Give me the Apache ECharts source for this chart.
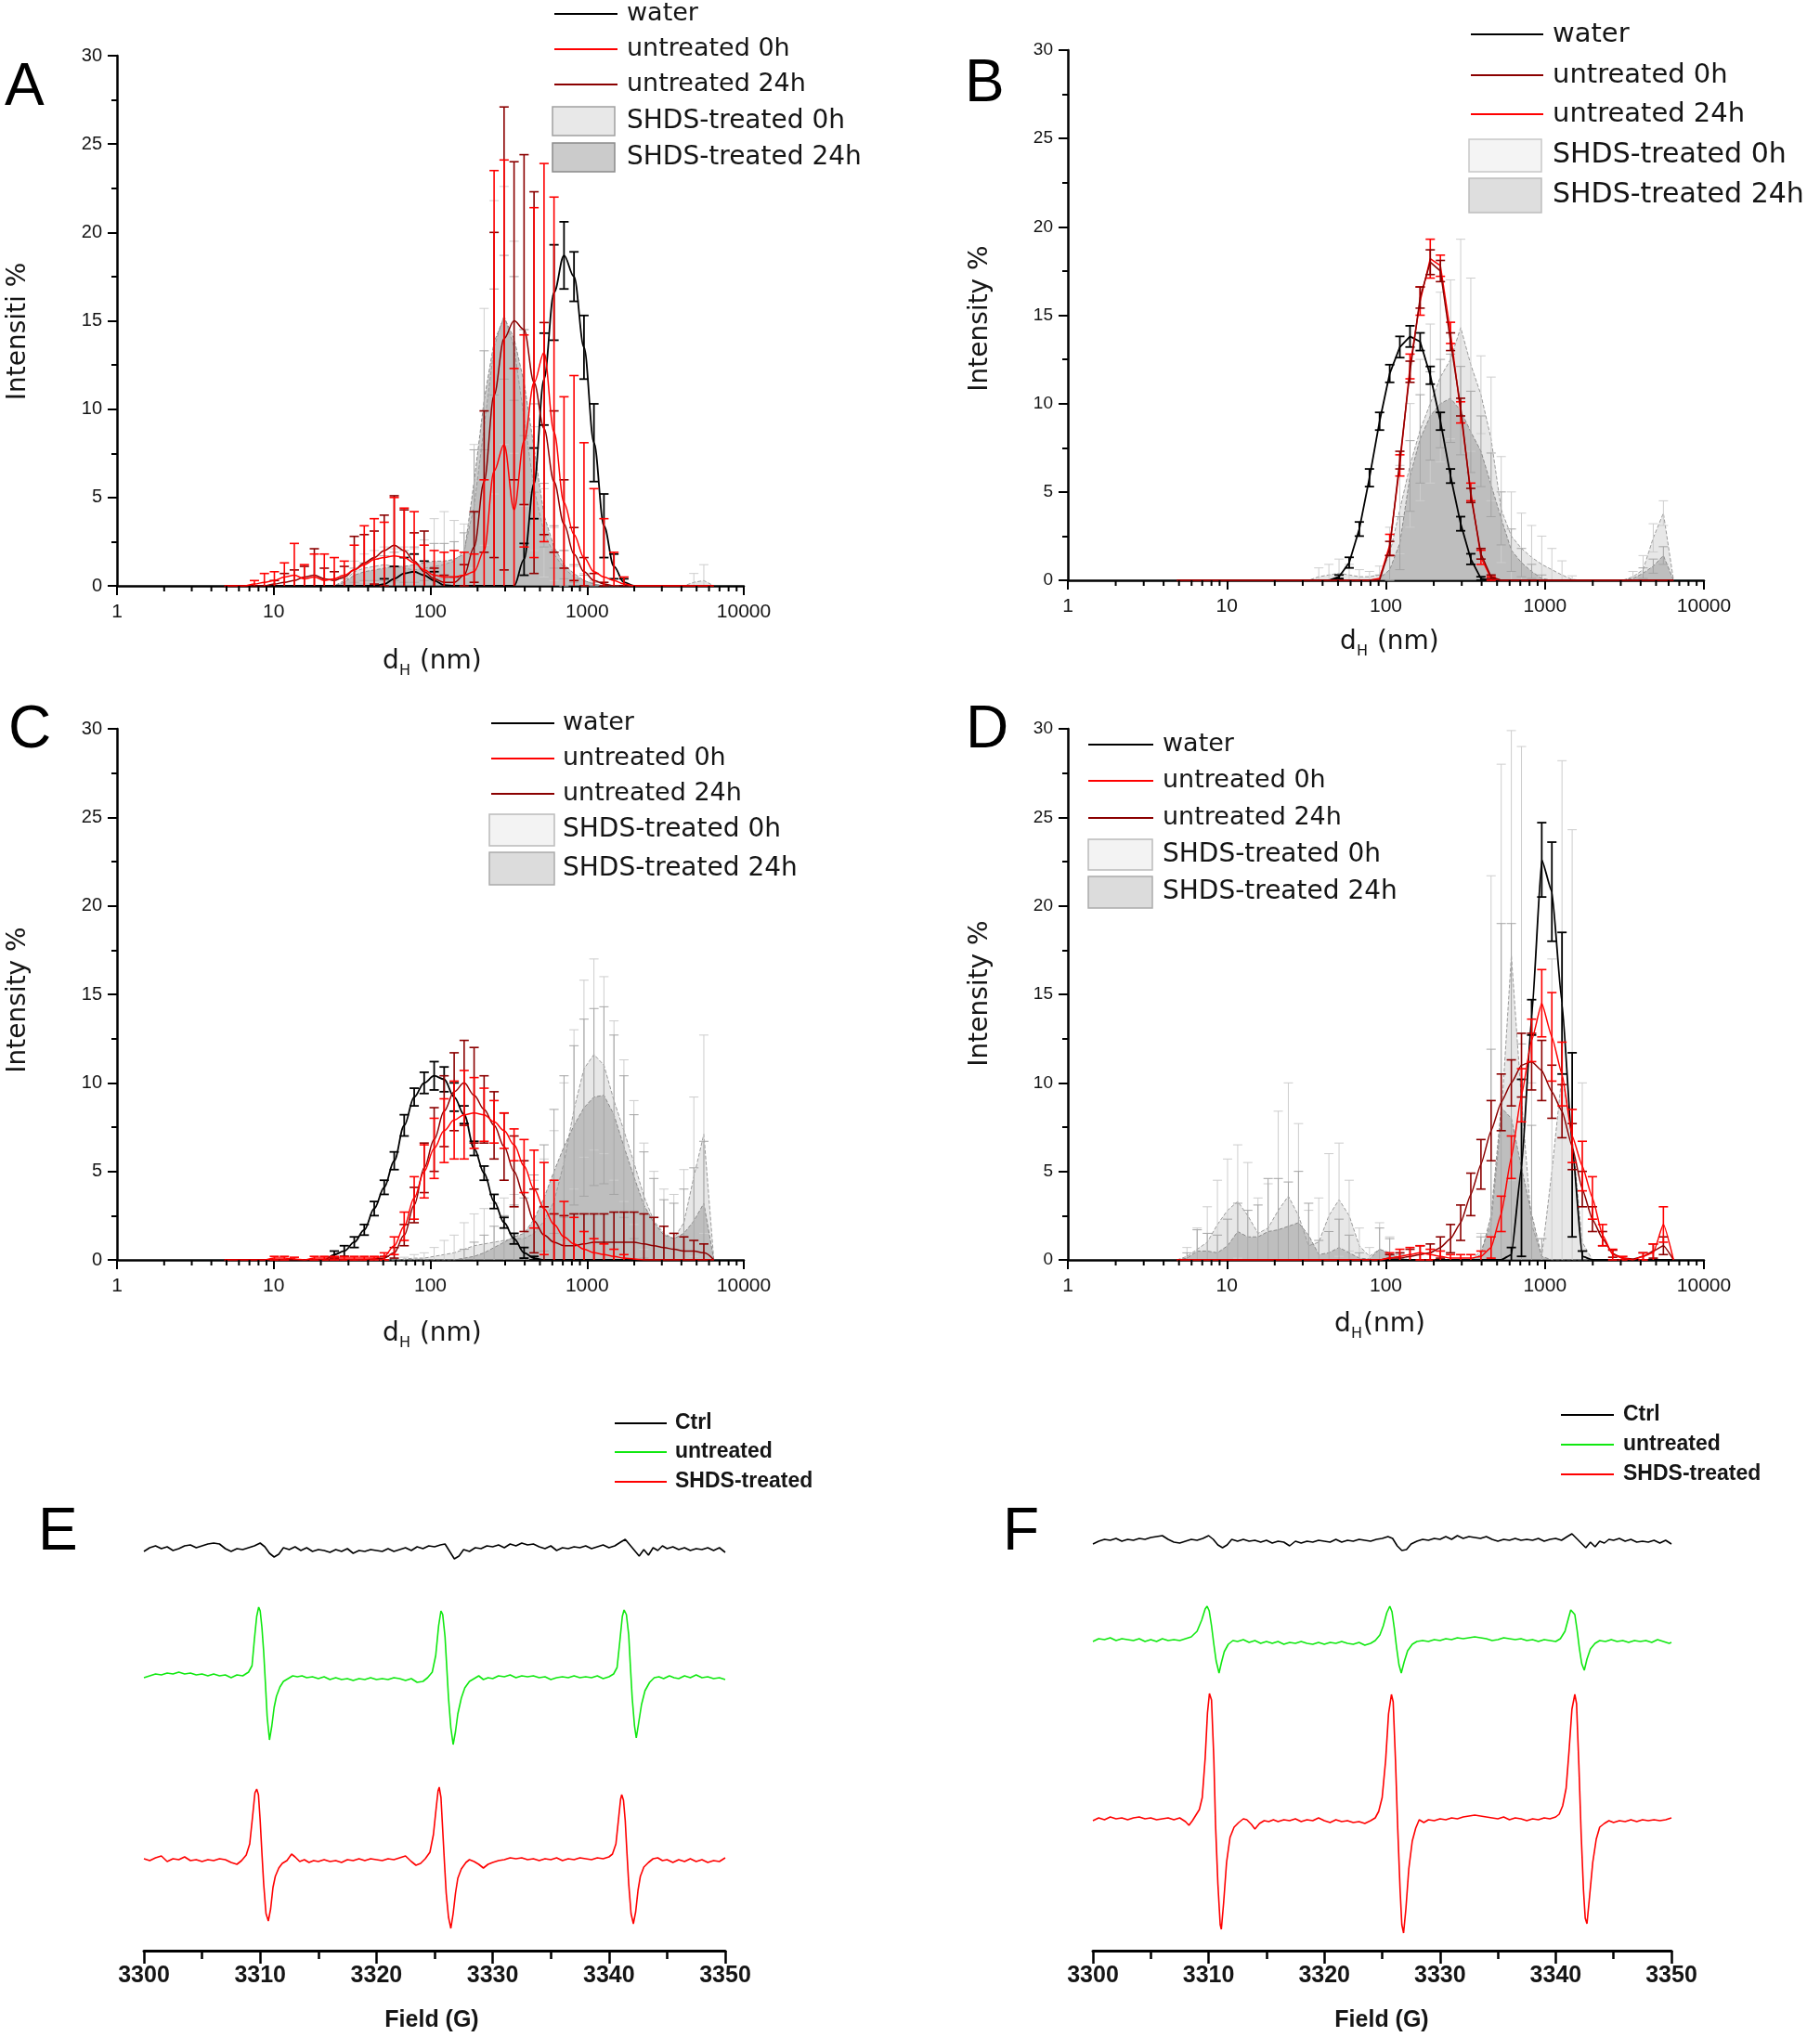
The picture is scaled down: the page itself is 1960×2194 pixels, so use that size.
<!DOCTYPE html>
<html><head><meta charset="utf-8">
<script src="https://cdn.jsdelivr.net/npm/echarts@6/dist/echarts.min.js"></script>
<style>html,body{margin:0;padding:0;background:#fff}#c{width:1960px;height:2194px}</style>
</head><body><div id="c"></div>
<script>
// Malvern size bins (nm) used by all DLS panels
const bins = [4.849,5.615,6.503,7.531,8.721,10.1,11.7,13.54,15.69,18.17,
21.04,24.36,28.21,32.67,37.84,43.82,50.75,58.77,68.06,78.82,
91.28,105.7,122.4,141.8,164.2,190.1,220.2,255.0,295.3,342.0,
396.1,458.7,531.2,615.1,712.4,825.0,955.4,1106,1281,1484,
1718,1990,2305,2669,3091,3580,4145,4801,5560,6439];
const dlsTicks = [1,10,100,1000,10000];
const yTicks = [0,5,10,15,20,25,30];
const eprTicks = [3300,3310,3320,3330,3340,3350];

// ---------- Panel A ----------
const A_water = [0,0,0,0,0,0,0,0,0,0, 0,0,0,0,0,0,0.1,0.4,0.7,0.8, 0.6,0.3,0.05,0,0,0,0,0,0,0, 1.5,5.8,11.7,16.6,18.7,17.5,13.5,8.1,3.4,1.1, 0.2,0,0,0,0,0,0,0,0,0];
const A_water_err = [0,0,0,0,0,0,0,0,0,0, 0,0,0,0,0,0,0.3,0.7,0.9,1.0, 0.8,0.5,0,0,0,0,0,0,0,0, 0.9,2.0,2.6,2.7,1.9,1.4,1.8,2.2,1.8,0.7, 0.2,0,0,0,0,0,0,0,0,0];
const A_red0 = [0,0,0,0.1,0.2,0.3,0.5,0.6,0.4,0.5, 0.3,0.4,0.6,0.9,1.2,1.5,1.6,1.7,1.6,1.3, 0.9,0.6,0.5,0.5,0.6,0.8,2.0,6.5,8.0,4.3, 8.2,11.5,13.2,8.7,4.7,2.9,1.6,0.8,0.5,0.3, 0.1,0,0,0,0,0,0,0,0,0];
const A_red0_err = [0,0,0,0.2,0.5,0.5,0.8,1.8,0.8,1.3, 1.5,1.2,0.8,1.4,2.2,2.3,2.0,3.3,2.8,2.9, 1.4,1.4,1.4,1.5,1.3,1.0,4.0,17.0,16.1,8.0, 6.0,9.9,10.7,13.3,6.0,9.0,6.5,4.7,3.3,1.6, 0.4,0,0,0,0,0,0,0,0,0];
const A_red24 = [0,0,0,0,0,0.1,0.2,0.3,0.5,0.6, 0.4,0.3,0.5,0.9,1.3,1.6,2.0,2.3,2.0,1.4, 0.8,0.4,0.2,0.2,0.6,2.2,5.9,10.8,14.0,15.0, 14.5,11.5,8.9,5.9,3.5,1.8,0.8,0.3,0.1,0, 0,0,0,0,0,0,0,0,0,0];
const A_red24_err = [0,0,0,0,0,0.2,0.5,0.6,0.6,1.5, 0.6,0.5,0.6,1.9,1.6,1.5,2.0,2.8,2.3,1.6, 2.3,0.6,0.4,0.3,0.6,2.0,4.0,9.2,13.1,9.0, 9.9,10.8,6.0,4.0,2.5,1.5,0.8,0.4,0.1,0, 0,0,0,0,0,0,0,0,0,0];
const A_shds0 = [0,0,0,0,0,0,0,0,0,0, 0,0,0.3,0.8,1.0,1.1,1.2,1.1,1.0,0.9, 1.0,1.1,1.2,1.4,2.0,4.5,9.0,13.5,15.3,13.5, 9.5,5.5,3.0,1.8,1.0,0.5,0.3,0.1,0,0, 0,0,0,0,0,0,0,0.2,0.3,0];
const A_shds0_err = [0,0,0,0,0,0,0,0,0,0, 0,0,0.3,0.6,0.8,0.9,1.0,1.0,1.2,1.2, 1.6,2.7,3.0,2.3,1.5,3.5,6.7,8.3,7.3,6.0, 5.0,3.5,2.5,1.5,1.0,0.6,0.4,0.2,0,0, 0,0,0,0,0,0,0,0.5,0.9,0];
const A_shds24 = [0,0,0,0,0,0,0,0,0,0, 0,0,0.2,0.6,0.8,0.9,1.0,1.1,1.1,1.2, 1.3,1.4,1.4,1.5,1.8,5.9,10.5,13.8,15.2,14.0, 11.5,7.8,4.0,2.2,1.2,0.7,0.3,0.1,0,0, 0,0,0,0,0,0,0,0,0,0];
const A_shds24_err = [0,0,0,0,0,0,0,0,0,0, 0,0,0.2,0.4,0.5,0.6,0.7,0.8,0.9,1.0, 1.0,1.0,1.0,1.0,1.2,1.8,2.8,3.0,3.5,3.5, 3.0,2.5,1.8,1.2,0.8,0.5,0.3,0.1,0,0, 0,0,0,0,0,0,0,0,0,0];

// ---------- Panel B ----------
const B_water = [0,0,0,0,0,0,0,0,0,0, 0,0,0,0,0,0,0.2,1.0,2.9,5.8, 9.0,11.7,13.2,13.8,13.5,11.6,9.0,5.9,3.2,1.2, 0.1,0,0,0,0,0,0,0,0,0, 0,0,0,0,0,0,0,0,0,0];
const B_water_err = [0,0,0,0,0,0,0,0,0,0, 0,0,0,0,0,0,0.1,0.3,0.4,0.5, 0.5,0.5,0.6,0.6,0.5,0.5,0.5,0.4,0.4,0.3, 0.1,0,0,0,0,0,0,0,0,0, 0,0,0,0,0,0,0,0,0,0];
const B_red0 = [0,0,0,0,0,0,0,0,0,0, 0,0,0,0,0,0,0,0,0,0, 0,1.8,6.8,11.8,16.0,18.0,17.5,13.5,9.8,4.8, 1.5,0.2,0,0,0,0,0,0,0,0, 0,0,0,0,0,0,0,0,0,0];
const B_red0_err = [0,0,0,0,0,0,0,0,0,0, 0,0,0,0,0,0,0,0,0,0, 0,0.4,0.5,0.6,0.6,0.7,0.6,0.5,0.5,0.4, 0.3,0.1,0,0,0,0,0,0,0,0, 0,0,0,0,0,0,0,0,0,0];
const B_red24 = [0,0,0,0,0,0,0,0,0,0, 0,0,0,0,0,0,0,0,0,0, 0.1,2.0,6.5,12.1,15.8,18.2,17.8,14.0,9.5,5.0, 1.3,0.1,0,0,0,0,0,0,0,0, 0,0,0,0,0,0,0,0,0,0];
const B_red24_err = [0,0,0,0,0,0,0,0,0,0, 0,0,0,0,0,0,0,0,0,0, 0,0.6,0.6,0.7,0.8,1.1,0.6,0.6,0.6,0.5, 0.4,0.1,0,0,0,0,0,0,0,0, 0,0,0,0,0,0,0,0,0,0];
const B_shds0 = [0,0,0,0,0,0,0,0,0,0, 0,0,0,0,0.2,0.3,0.4,0.3,0.2,0.2, 0.3,1.5,4.0,6.5,8.5,10.0,11.5,12.5,14.3,12.2, 10.5,8.0,4.0,2.5,1.8,1.3,0.9,0.6,0.3,0.05, 0,0,0,0,0,0.2,0.6,2.4,3.8,0];
const B_shds0_err = [0,0,0,0,0,0,0,0,0,0, 0,0,0,0,0.5,0.6,0.8,0.6,0.4,0.3, 0.5,1.5,2.5,3.5,4.0,4.5,4.8,4.5,5.0,4.9, 2.2,3.5,3.0,2.5,2.0,1.8,1.6,1.2,0.8,0.2, 0,0,0,0,0,0.3,0.8,0.8,0.7,0];
const B_shds24 = [0,0,0,0,0,0,0,0,0,0, 0,0,0,0,0,0,0,0,0,0, 0.1,0.6,2.1,5.9,8.0,9.3,10.0,10.3,9.6,8.4, 7.3,5.4,3.5,1.7,1.0,0.5,0.1,0,0,0, 0,0,0,0,0,0.1,0.4,0.8,1.4,0];
const B_shds24_err = [0,0,0,0,0,0,0,0,0,0, 0,0,0,0,0,0,0,0,0,0, 0.2,0.8,1.5,2.0,2.5,2.5,2.5,2.5,2.5,2.3, 2.0,1.8,1.5,1.2,0.8,0.4,0.2,0,0,0, 0,0,0,0,0,0,0.3,0.4,0.5,0];

// ---------- Panel C ----------
const C_water = [0,0,0,0,0,0,0,0,0,0, 0,0.3,0.5,1.0,1.7,2.9,4.1,5.6,7.6,9.2, 10.0,10.4,10.2,9.2,8.2,6.3,4.9,3.3,2.1,1.2, 0.4,0.1,0,0,0,0,0,0,0,0, 0,0,0,0,0,0,0,0,0,0];
const C_water_err = [0,0,0,0,0,0,0,0,0,0, 0,0.2,0.3,0.3,0.3,0.4,0.4,0.5,0.6,0.5, 0.6,0.8,0.7,0.8,0.5,0.4,0.4,0.4,0.3,0.3, 0.3,0.1,0,0,0,0,0,0,0,0, 0,0,0,0,0,0,0,0,0,0];
const C_red0 = [0,0,0,0,0,0.1,0.1,0.05,0,0.1, 0.1,0.1,0.1,0.1,0.1,0.1,0.2,0.8,1.9,3.5, 5.0,6.3,7.3,7.9,8.2,8.3,8.2,7.8,7.3,6.5, 5.3,4.0,2.9,2.0,1.3,0.9,0.6,0.4,0.3,0.2, 0.1,0.05,0,0,0,0,0,0,0,0];
const C_red0_err = [0,0,0,0,0,0.1,0.1,0.1,0,0.1, 0.1,0.1,0.1,0.1,0.1,0.1,0.2,0.5,0.8,1.2, 1.5,1.7,1.8,2.2,2.5,2.0,1.5,1.2,1.0,0.9, 1.5,2.2,2.6,2.5,2.0,1.5,1.0,0.8,0.6,0.4, 0.2,0,0,0,0,0,0,0,0,0];
const C_red24 = [0,0,0,0,0,0,0,0,0,0, 0,0,0,0,0,0.05,0.1,0.4,1.4,3.1, 5.2,6.8,8.4,9.5,10.0,9.3,8.5,7.6,6.4,5.0, 3.6,2.2,1.4,1.0,0.8,0.8,0.9,1.0,1.0,1.0, 1.0,1.0,0.9,0.8,0.7,0.6,0.5,0.5,0.4,0];
const C_red24_err = [0,0,0,0,0,0,0,0,0,0, 0,0,0,0,0,0,0.1,0.3,0.6,1.0, 1.4,1.8,2.0,2.2,2.4,2.7,1.9,1.9,1.9,2.0, 2.0,1.8,1.6,1.6,1.7,1.8,1.7,1.6,1.6,1.7, 1.7,1.7,1.7,1.6,1.2,0.9,0.8,0.6,0.5,0];
const C_shds0 = [0,0,0,0,0,0,0,0,0,0, 0,0,0,0,0,0,0,0,0.05,0.1, 0.1,0.2,0.3,0.4,0.6,0.8,0.9,1.0,1.1,1.2, 1.2,1.5,2.2,3.3,5.5,8.5,10.8,11.6,11.0,9.0, 7.3,5.5,3.6,2.2,1.5,1.2,2.1,4.7,7.1,0];
const C_shds0_err = [0,0,0,0,0,0,0,0,0,0, 0,0,0,0,0,0,0,0,0.1,0.2, 0.3,0.5,0.8,1.0,1.5,1.8,2.0,2.2,2.4,2.5, 2.6,3.0,3.5,4.0,4.5,4.5,5.0,5.4,5.0,4.5, 4.0,3.5,3.0,2.8,2.5,2.5,3.0,4.5,5.6,0];
const C_shds24 = [0,0,0,0,0,0,0,0,0,0, 0,0,0,0,0,0,0,0,0,0, 0,0,0,0,0.1,0.2,0.4,0.7,1.0,1.3, 1.5,2.3,3.5,5.0,6.4,7.6,8.6,9.2,9.3,8.2, 6.4,4.7,3.1,2.1,1.4,1.2,1.5,2.2,3.2,0];
const C_shds24_err = [0,0,0,0,0,0,0,0,0,0, 0,0,0,0,0,0,0,0,0,0, 0,0,0,0,0.5,0.8,1.0,1.2,1.5,1.8, 2.0,2.5,3.0,3.5,4.0,4.5,5.0,5.0,5.0,4.5, 4.0,3.5,3.0,2.5,2.0,2.0,2.5,3.0,3.5,0];

// ---------- Panel D ----------
const D_water = [0,0,0,0,0,0,0,0,0,0, 0,0,0,0,0,0,0,0,0,0, 0,0,0,0,0,0,0,0,0,0, 0,0,0,0.3,5.2,13.7,22.6,20.8,14.5,6.5, 0.2,0,0,0,0,0,0,0,0,0];
const D_water_err = [0,0,0,0,0,0,0,0,0,0, 0,0,0,0,0,0,0,0,0,0, 0,0,0,0,0,0,0,0,0,0, 0,0,0,0.4,5.0,1.0,2.1,2.8,4.0,5.2, 0.3,0,0,0,0,0,0,0,0,0];
const D_red0 = [0,0,0,0,0,0,0,0,0,0, 0,0,0,0,0,0,0,0,0,0, 0,0.1,0.2,0.3,0.4,0.3,0.2,0.1,0.1,0.1, 0.2,0.7,2.6,5.8,9.3,12.4,14.5,12.6,10.5,7.0, 5.3,3.5,1.4,0.3,0.1,0,0.2,0.4,2.0,0];
const D_red0_err = [0,0,0,0,0,0,0,0,0,0, 0,0,0,0,0,0,0,0,0,0, 0,0.3,0.4,0.4,0.4,0.3,0.3,0.2,0.2,0.2, 0.3,0.6,1.0,1.2,1.5,1.2,1.9,2.5,1.8,1.5, 1.4,1.2,0.6,0.3,0.1,0,0.2,0.5,1.0,0];
const D_red24 = [0,0,0,0,0,0,0,0,0,0, 0,0,0,0,0,0,0,0,0,0, 0,0.1,0.1,0.2,0.3,0.4,0.7,1.2,2.1,3.7, 5.4,7.3,8.9,10.0,11.0,11.2,10.7,9.5,8.4,6.4, 4.0,2.3,1.2,0.35,0.1,0.05,0.2,0.5,0.8,0];
const D_red24_err = [0,0,0,0,0,0,0,0,0,0, 0,0,0,0,0,0,0,0,0,0, 0,0.2,0.3,0.4,0.5,0.5,0.6,0.8,1.0,1.2, 1.4,1.7,1.6,1.3,1.8,1.6,1.7,1.5,1.5,1.3, 1.0,0.7,0.4,0.2,0,0,0.2,0.4,0.5,0];
const D_shds0 = [0,0.2,0.6,1.0,2.0,2.8,3.3,2.5,1.5,1.8, 2.8,3.6,2.5,0.8,1.0,2.5,3.4,2.5,0.8,0.2, 0.6,0.3,0.1,0,0,0,0,0,0,0, 0.5,2.0,8.0,17.2,9.0,2.0,0.2,5.0,10.5,7.0, 1.0,0,0,0,0,0,0,0,0,0];
const D_shds0_err = [0,0.5,1.2,2.0,2.5,2.9,3.2,3.0,2.0,2.5, 5.6,6.4,5.2,2.0,2.5,3.5,3.2,2.0,1.0,0.5, 1.5,1.0,0.3,0,0,0,0,0,0,0, 1.0,19.7,20.0,12.7,20.0,8.0,1.0,12.0,17.7,17.3, 9.0,0,0,0,0,0,0,0,0,0];
const D_shds24 = [0,0.1,0.5,0.5,0.4,0.8,1.6,1.3,1.3,1.6, 1.7,1.9,2.1,1.4,0.3,0.4,0.7,0.4,0.1,0.05, 0.6,0.4,0.1,0,0,0,0,0,0,0, 0.3,2.5,8.6,8.0,5.2,2.6,0.2,0,0,0, 0,0,0,0,0,0,0,0,0,0];
const D_shds24_err = [0,0.3,1.2,1.0,1.0,1.5,1.6,1.5,1.8,3.0, 2.9,2.5,2.9,1.8,0.8,1.2,1.6,1.0,0.3,0, 1.2,0.8,0.2,0,0,0,0,0,0,0, 1.0,9.4,10.4,11.0,7.0,5.0,1.0,0,0,0, 0,0,0,0,0,0,0,0,0,0];

// ---------- EPR panels (field G, signal a.u.) ----------
const E_ctrl = [[3300,430],[3300.5,434],[3301,436],[3301.5,433],[3302,435],[3302.5,431],[3303,433],[3303.5,436],[3304,437],[3304.5,434],[3305,436],[3305.5,438],[3306,439],[3306.5,438],[3307,433],[3307.5,430],[3308,433],[3308.5,432],[3309,434],[3309.5,436],[3310,439],[3310.4,435],[3310.8,428],[3311.2,424],[3311.6,427],[3312,434],[3312.5,432],[3313,435],[3313.5,431],[3314,434],[3314.5,430],[3315,432],[3315.5,431],[3316,429],[3316.5,432],[3317,430],[3317.5,433],[3318,428],[3318.5,431],[3319,430],[3319.5,432],[3320,431],[3320.5,430],[3321,433],[3321.5,430],[3322,432],[3322.5,434],[3323,431],[3323.5,435],[3324,433],[3324.5,436],[3325,435],[3325.5,437],[3325.9,438],[3326.3,430],[3326.7,422],[3327.1,425],[3327.5,432],[3328,430],[3328.5,434],[3329,433],[3329.5,436],[3330,435],[3330.5,437],[3331,434],[3331.5,438],[3332,436],[3332.5,439],[3333,437],[3333.5,438],[3334,435],[3334.5,433],[3335,436],[3335.5,431],[3336,434],[3336.5,433],[3337,435],[3337.5,434],[3338,436],[3338.5,433],[3339,435],[3339.5,437],[3340,434],[3340.5,436],[3341,440],[3341.4,443],[3341.8,437],[3342.2,431],[3342.6,425],[3343,432],[3343.4,426],[3343.8,434],[3344.2,431],[3344.6,436],[3345,433],[3345.5,435],[3346,432],[3346.5,434],[3347,431],[3347.5,433],[3348,432],[3348.5,434],[3349,431],[3349.5,434],[3350,429]];
const E_untreated = [[3300,294],[3300.5,296],[3301,298],[3301.5,297],[3302,299],[3302.5,298],[3303,300],[3303.5,298],[3304,299],[3304.5,297],[3305,298],[3305.5,296],[3306,298],[3306.5,296],[3307,297],[3307.5,294],[3308,297],[3308.5,296],[3309,300],[3309.3,307],[3309.5,335],[3309.7,360],[3309.87,370],[3310.0,366],[3310.15,348],[3310.3,322],[3310.45,288],[3310.6,252],[3310.8,227],[3311.0,242],[3311.2,262],[3311.4,274],[3311.7,284],[3312.0,290],[3312.4,293],[3312.8,296],[3313.2,295],[3313.6,296],[3314,294],[3314.5,295],[3315,293],[3315.5,295],[3316,292],[3316.5,294],[3317,292],[3317.5,293],[3318,291],[3318.5,293],[3319,292],[3319.5,294],[3320,292],[3320.5,293],[3321,292],[3321.5,294],[3322,293],[3322.5,291],[3323,293],[3323.5,289],[3324,290],[3324.4,294],[3324.8,300],[3325.1,318],[3325.35,350],[3325.55,366],[3325.7,362],[3325.9,338],[3326.05,305],[3326.2,272],[3326.4,240],[3326.6,222],[3326.8,236],[3327.0,255],[3327.3,272],[3327.6,283],[3328,290],[3328.4,293],[3328.8,296],[3329.2,292],[3329.6,294],[3330,293],[3330.5,296],[3331,295],[3331.5,297],[3332,294],[3332.5,296],[3333,295],[3333.5,296],[3334,294],[3334.5,295],[3335,292],[3335.5,294],[3336,295],[3336.5,294],[3337,296],[3337.5,294],[3338,295],[3338.5,294],[3339,296],[3339.5,293],[3340,295],[3340.4,298],[3340.7,305],[3340.95,335],[3341.15,360],[3341.3,367],[3341.5,362],[3341.7,340],[3341.85,305],[3342.0,272],[3342.2,242],[3342.35,229],[3342.55,245],[3342.8,265],[3343.1,280],[3343.5,289],[3343.9,294],[3344.3,295],[3344.7,293],[3345.2,296],[3345.6,294],[3346,293],[3346.5,296],[3347,294],[3347.5,297],[3348,294],[3348.5,295],[3349,293],[3349.5,294],[3350,292]];
const E_treated = [[3300,99],[3300.5,97],[3301,100],[3301.5,102],[3302,96],[3302.5,99],[3303,98],[3303.5,101],[3304,97],[3304.5,98],[3305,96],[3305.5,98],[3306,97],[3306.5,99],[3307,98],[3307.5,95],[3308,93],[3308.4,97],[3308.8,103],[3309.1,115],[3309.35,145],[3309.55,170],[3309.7,174],[3309.85,168],[3310.0,140],[3310.15,105],[3310.3,72],[3310.5,40],[3310.7,32],[3310.9,45],[3311.1,68],[3311.3,80],[3311.6,89],[3311.9,94],[3312.3,97],[3312.7,104],[3313,101],[3313.4,96],[3313.8,98],[3314.2,95],[3314.6,97],[3315,96],[3315.5,98],[3316,96],[3316.5,97],[3317,95],[3317.5,98],[3318,97],[3318.5,99],[3319,97],[3319.5,99],[3320,98],[3320.5,97],[3321,99],[3321.5,98],[3322,100],[3322.5,102],[3323,96],[3323.4,92],[3323.8,94],[3324.2,99],[3324.6,106],[3324.9,125],[3325.15,155],[3325.3,172],[3325.4,176],[3325.55,165],[3325.7,130],[3325.85,95],[3326.0,62],[3326.2,36],[3326.4,24],[3326.6,40],[3326.8,62],[3327.0,78],[3327.3,88],[3327.7,95],[3328,98],[3328.4,96],[3328.8,93],[3329.2,89],[3329.6,93],[3330,95],[3330.5,97],[3331,98],[3331.5,100],[3332,99],[3332.5,100],[3333,98],[3333.5,99],[3334,97],[3334.5,99],[3335,98],[3335.5,100],[3336,97],[3336.5,99],[3337,98],[3337.5,100],[3338,99],[3338.5,98],[3339,100],[3339.5,99],[3340,101],[3340.3,104],[3340.6,115],[3340.85,145],[3341.0,163],[3341.1,168],[3341.25,162],[3341.4,140],[3341.55,105],[3341.7,72],[3341.9,40],[3342.1,29],[3342.3,42],[3342.5,65],[3342.7,80],[3343.0,90],[3343.4,95],[3343.8,99],[3344.2,100],[3344.6,97],[3345,98],[3345.5,95],[3346,98],[3346.5,96],[3347,99],[3347.5,96],[3348,98],[3348.5,95],[3349,97],[3349.5,96],[3350,100]];
const F_ctrl = [[3300,438],[3300.5,441],[3301,443],[3301.5,442],[3302,444],[3302.5,441],[3303,443],[3303.5,442],[3304,444],[3304.5,443],[3305,445],[3305.5,446],[3306,447],[3306.5,443],[3307,440],[3307.5,439],[3308,441],[3308.5,443],[3309,442],[3309.5,444],[3310,447],[3310.4,443],[3310.8,437],[3311.2,434],[3311.6,437],[3312,443],[3312.5,441],[3313,443],[3313.5,441],[3314,442],[3314.5,440],[3315,442],[3315.5,439],[3316,441],[3316.5,440],[3317,436],[3317.5,441],[3318,439],[3318.5,441],[3319,440],[3319.5,442],[3320,441],[3320.5,440],[3321,443],[3321.5,440],[3322,442],[3322.5,441],[3323,443],[3323.5,442],[3324,441],[3324.5,443],[3325,444],[3325.5,446],[3325.9,444],[3326.3,436],[3326.7,431],[3327.1,432],[3327.5,438],[3328,441],[3328.5,443],[3329,442],[3329.5,444],[3330,443],[3330.5,446],[3331,443],[3331.5,447],[3332,444],[3332.5,446],[3333,445],[3333.5,444],[3334,446],[3334.5,443],[3335,441],[3335.5,443],[3336,442],[3336.5,444],[3337,442],[3337.5,443],[3338,442],[3338.5,444],[3339,441],[3339.5,443],[3340,444],[3340.5,442],[3341,446],[3341.4,449],[3341.8,444],[3342.2,439],[3342.6,434],[3343,440],[3343.4,435],[3343.8,441],[3344.2,439],[3344.6,443],[3345,442],[3345.5,444],[3346,441],[3346.5,443],[3347,440],[3347.5,441],[3348,440],[3348.5,442],[3349,439],[3349.5,442],[3350,438]];
const F_untreated = [[3300,333],[3300.5,336],[3301,335],[3301.5,337],[3302,334],[3302.5,336],[3303,335],[3303.5,334],[3304,336],[3304.5,333],[3305,335],[3305.5,333],[3306,336],[3306.5,334],[3307,335],[3307.5,334],[3308,336],[3308.5,338],[3309.0,344],[3309.4,356],[3309.7,368],[3309.87,371],[3310.05,366],[3310.25,350],[3310.45,330],[3310.65,312],[3310.9,299],[3311.1,310],[3311.35,322],[3311.7,330],[3312.1,334],[3312.5,333],[3313,335],[3313.5,332],[3314,334],[3314.5,331],[3315,333],[3315.5,331],[3316,333],[3316.5,330],[3317,332],[3317.5,331],[3318,333],[3318.5,331],[3319,330],[3319.5,332],[3320,330],[3320.5,332],[3321,331],[3321.5,333],[3322,331],[3322.5,330],[3323,332],[3323.5,329],[3324,331],[3324.4,334],[3324.8,340],[3325.1,350],[3325.4,364],[3325.66,371],[3325.85,365],[3326.05,347],[3326.25,326],[3326.45,308],[3326.65,299],[3326.9,311],[3327.2,323],[3327.6,330],[3328,333],[3328.5,334],[3329,333],[3329.5,335],[3330,334],[3330.5,336],[3331,335],[3331.5,337],[3332,336],[3332.5,337],[3333,338],[3333.5,337],[3334,336],[3334.5,334],[3335,335],[3335.5,337],[3336,336],[3336.5,335],[3337,336],[3337.5,334],[3338,335],[3338.5,333],[3339,335],[3339.5,334],[3340,333],[3340.4,336],[3340.8,344],[3341.1,358],[3341.3,367],[3341.45,369],[3341.65,362],[3341.85,345],[3342.05,325],[3342.25,309],[3342.47,302],[3342.7,314],[3343.0,325],[3343.4,331],[3343.8,334],[3344.3,333],[3344.8,335],[3345.3,333],[3345.8,334],[3346.3,332],[3346.8,334],[3347.3,333],[3347.8,334],[3348.3,332],[3348.8,335],[3349.3,333],[3349.8,331],[3350,332]];
const F_treated = [[3300,140],[3300.5,143],[3301,141],[3301.5,144],[3302,142],[3302.5,143],[3303,141],[3303.5,143],[3304,144],[3304.5,142],[3305,143],[3305.5,141],[3306,142],[3306.5,143],[3307,141],[3307.5,143],[3308,139],[3308.3,135],[3308.6,140],[3308.9,146],[3309.2,152],[3309.45,165],[3309.7,207],[3309.9,256],[3310.07,277],[3310.25,270],[3310.45,207],[3310.6,135],[3310.8,72],[3311.0,28],[3311.1,23],[3311.3,52],[3311.55,95],[3311.85,122],[3312.2,133],[3312.6,138],[3313.0,142],[3313.3,141],[3313.7,136],[3314.0,131],[3314.4,137],[3314.8,140],[3315.2,139],[3315.6,141],[3316,139],[3316.5,141],[3317,140],[3317.5,142],[3318,139],[3318.5,141],[3319,140],[3319.5,143],[3320,140],[3320.5,138],[3321,141],[3321.5,139],[3322,140],[3322.5,138],[3323,139],[3323.5,137],[3324,140],[3324.4,143],[3324.7,150],[3325.0,165],[3325.3,205],[3325.55,255],[3325.8,276],[3325.95,268],[3326.15,205],[3326.35,130],[3326.55,65],[3326.7,28],[3326.85,19],[3327.05,45],[3327.3,88],[3327.6,118],[3327.9,132],[3328.2,141],[3328.6,138],[3329,141],[3329.5,140],[3330,142],[3330.5,141],[3331,143],[3331.5,142],[3332,144],[3332.5,145],[3333,146],[3333.5,145],[3334,144],[3334.5,143],[3335,142],[3335.5,144],[3336,141],[3336.5,143],[3337,142],[3337.5,140],[3338,142],[3338.5,141],[3339,143],[3339.5,142],[3340,144],[3340.3,147],[3340.6,156],[3340.9,175],[3341.15,215],[3341.4,260],[3341.65,276],[3341.8,266],[3342.0,200],[3342.2,125],[3342.4,65],[3342.55,35],[3342.7,29],[3342.9,55],[3343.2,95],[3343.5,120],[3343.8,133],[3344.2,137],[3344.6,140],[3345,138],[3345.5,140],[3346,139],[3346.5,141],[3347,139],[3347.5,141],[3348,140],[3348.5,141],[3349,140],[3349.5,141],[3350,143]];

// ---------- styling ----------
const RED = '#ff0000', DRED = '#8b0000', BLK = '#000000', GRN = '#10e810';
const TXT = '#151515';
const grids = [
  {left:126, top:60, width:675, height:571},
  {left:1150, top:54, width:685, height:571},
  {left:126, top:785, width:675, height:572},
  {left:1150, top:785, width:685, height:572},
  {left:155, top:1601, width:626, height:500},
  {left:1177, top:1601, width:623, height:500}
];

const panels = [
  {w:[A_water,A_water_err], r0:[A_red0,A_red0_err], r24:[A_red24,A_red24_err], s0:[A_shds0,A_shds0_err], s24:[A_shds24,A_shds24_err], c0:RED, c24:DRED, sm:0.35},
  {w:[B_water,B_water_err], r0:[B_red0,B_red0_err], r24:[B_red24,B_red24_err], s0:[B_shds0,B_shds0_err], s24:[B_shds24,B_shds24_err], c0:DRED, c24:RED, sm:0},
  {w:[C_water,C_water_err], r0:[C_red0,C_red0_err], r24:[C_red24,C_red24_err], s0:[C_shds0,C_shds0_err], s24:[C_shds24,C_shds24_err], c0:RED, c24:DRED, sm:0.35},
  {w:[D_water,D_water_err], r0:[D_red0,D_red0_err], r24:[D_red24,D_red24_err], s0:[D_shds0,D_shds0_err], s24:[D_shds24,D_shds24_err], c0:RED, c24:DRED, sm:0.15}
];

// minor tick positions of the log axis (2..9 in every decade)
const minorLog = [];
for (const d of [1,10,100,1000]) for (let k = 2; k <= 9; k++) minorLog.push(d * k);

function lineS(g, y, color, sm, w, z) {
  return {type:'line', xAxisIndex:g, yAxisIndex:g, data: bins.map((b,k)=>[b, y[k]]),
    showSymbol:false, smooth:sm, smoothMonotone:'x', silent:true, animation:false,
    lineStyle:{color, width:w}, itemStyle:{color}, z};
}
function areaS(g, y, fill, stroke, z) {
  return {type:'line', xAxisIndex:g, yAxisIndex:g, data: bins.map((b,k)=>[b, y[k]]),
    showSymbol:false, smooth:false, silent:true, animation:false,
    lineStyle:{color:stroke, width:1, type:'dashed'}, areaStyle:{color:fill, opacity:1}, itemStyle:{color:stroke}, z};
}
function errS(g, y, e, color, w, cap, z) {
  return {type:'custom', xAxisIndex:g, yAxisIndex:g, z, silent:true, animation:false,
    encode:{x:0, y:1},
    data: bins.map((b,k)=>[b, y[k], e[k]]),
    renderItem: (params, api) => {
      const x = api.value(0), v = api.value(1), er = api.value(2);
      if (!(er > 0)) return null;
      const hi = v + er, lo = v - er;
      const pt = api.coord([x, Math.min(hi, 30)]), pb = api.coord([x, Math.max(lo, 0)]);
      const st = {stroke:color, lineWidth:w};
      const ch = [{type:'line', shape:{x1:pt[0], y1:pt[1], x2:pb[0], y2:pb[1]}, style:st}];
      if (hi <= 30) ch.push({type:'line', shape:{x1:pt[0]-cap, y1:pt[1], x2:pt[0]+cap, y2:pt[1]}, style:st});
      if (lo >= 0) ch.push({type:'line', shape:{x1:pb[0]-cap, y1:pb[1], x2:pb[0]+cap, y2:pb[1]}, style:st});
      return {type:'group', children:ch};
    }};
}
function minorTickS(g) {
  return {type:'custom', xAxisIndex:g, yAxisIndex:g, z:10, silent:true, animation:false, clip:false,
    encode:{x:0, y:1}, data: minorLog.map(v=>[v, 0]),
    renderItem: (params, api) => {
      const p = api.coord([api.value(0), 0]);
      return {type:'line', shape:{x1:p[0], y1:p[1], x2:p[0], y2:p[1]+6}, style:{stroke:'#000', lineWidth:2}};
    }};
}

const series = [];
panels.forEach((p, g) => {
  series.push(areaS(g, p.s0[0], 'rgba(195,195,195,0.40)', '#9a9a9a', 1));
  series.push(areaS(g, p.s24[0], 'rgba(140,140,140,0.45)', '#8a8a8a', 1));
  series.push(errS(g, p.s0[0], p.s0[1], '#cdcdcd', 1, 5, 2));
  series.push(errS(g, p.s24[0], p.s24[1], '#a4a4a4', 1, 5, 2));
  series.push(lineS(g, p.w[0], BLK, p.sm, 1.8, 4));
  series.push(errS(g, p.w[0], p.w[1], BLK, 1.8, 5, 4));
  series.push(lineS(g, p.r24[0], p.c24, p.sm, 1.5, 5));
  series.push(errS(g, p.r24[0], p.r24[1], p.c24, 1.6, 5, 5));
  series.push(lineS(g, p.r0[0], p.c0, p.sm, 1.5, 6));
  series.push(errS(g, p.r0[0], p.r0[1], p.c0, 1.6, 5, 6));
  series.push(minorTickS(g));
});
[[4, E_ctrl, E_untreated, E_treated], [5, F_ctrl, F_untreated, F_treated]].forEach(([g, c, u, t]) => {
  [[c, BLK], [u, GRN], [t, RED]].forEach(([d, col]) => {
    series.push({type:'line', xAxisIndex:g, yAxisIndex:g, data:d, showSymbol:false, silent:true, animation:false,
      lineStyle:{color:col, width:1.6}, itemStyle:{color:col}});
  });
});

const xAxes = [], yAxes = [];
for (let g = 0; g < 4; g++) {
  xAxes.push({type:'log', logBase:10, min:1, max:10000, gridIndex:g,
    axisLine:{show:true, onZero:false, lineStyle:{color:'#000', width:2.5}},
    axisTick:{show:true, length:10, lineStyle:{color:'#000', width:2}},
    minorTick:{show:false}, splitLine:{show:false}, minorSplitLine:{show:false},
    axisLabel:{fontSize:21, color:TXT, fontFamily:'Liberation Sans', margin:18,
      formatter: v => (dlsTicks.indexOf(Math.round(v)) >= 0 ? String(Math.round(v)) : '')}});
  yAxes.push({type:'value', min:0, max:30, interval:5, gridIndex:g,
    axisLine:{show:true, onZero:false, lineStyle:{color:'#000', width:2.5}},
    axisTick:{show:true, length:10, lineStyle:{color:'#000', width:2}},
    minorTick:{show:true, splitNumber:2, length:6, lineStyle:{color:'#000', width:2}},
    splitLine:{show:false}, minorSplitLine:{show:false},
    axisLabel:{fontSize:(g % 2 ? 19 : 20), color:TXT, fontFamily:'Liberation Sans', margin:16,
      formatter: v => (yTicks.indexOf(v) >= 0 ? String(v) : '')}});
}
for (let g = 4; g < 6; g++) {
  xAxes.push({type:'value', min:3300, max:3350, interval:10, gridIndex:g,
    axisLine:{show:true, onZero:false, lineStyle:{color:'#000', width:3}},
    axisTick:{show:true, length:14, lineStyle:{color:'#000', width:2.5}},
    minorTick:{show:true, splitNumber:2, length:9, lineStyle:{color:'#000', width:2.5}},
    splitLine:{show:false}, minorSplitLine:{show:false},
    axisLabel:{fontSize:25, fontWeight:'bold', color:TXT, fontFamily:'Liberation Sans', margin:15,
      formatter: v => (eprTicks.indexOf(v) >= 0 ? String(v) : '')}});
  yAxes.push({type:'value', min:0, max:500, gridIndex:g, show:false});
}

// ---------- graphic: legends, titles, panel letters ----------
const G = [];
function T(x, y, text, font, opt) {
  opt = opt || {};
  G.push({type:'text', x, y, rotation: opt.rot || 0, silent:true, z:100,
    style:{text, font, fill: opt.fill || TXT, align: opt.align || 'left', verticalAlign: opt.va || 'middle',
      textAlign: opt.align || 'left', textVerticalAlign: opt.va || 'middle'}});
}
function L(x1, y1, x2, y2, color, w) {
  G.push({type:'line', silent:true, z:100, shape:{x1, y1, x2, y2}, style:{stroke:color, lineWidth:w}});
}
function R(x, y, w, h, fill, stroke) {
  G.push({type:'rect', silent:true, z:100, shape:{x, y, width:w, height:h}, style:{fill, stroke, lineWidth:1.5}});
}
const DJ = '"DejaVu Sans", "Liberation Sans", sans-serif';
function dlsLegend(lx1, lx2, tx, rows, boxes, cols, box0, box24, fs, fs2) {
  const names = ['water', 'untreated 0h', 'untreated 24h'];
  for (let i = 0; i < 3; i++) { L(lx1, rows[i], lx2, rows[i], cols[i], 2); T(tx, rows[i], names[i], fs + 'px ' + DJ); }
  R(boxes[0][0], boxes[0][1], boxes[0][2], boxes[0][3], box0[0], box0[1]);
  R(boxes[1][0], boxes[1][1], boxes[1][2], boxes[1][3], box24[0], box24[1]);
  const f2 = fs2 + 'px ' + DJ;
  T(tx, boxes[0][1] + boxes[0][3] / 2, 'SHDS-treated 0h', f2);
  T(tx, boxes[1][1] + boxes[1][3] / 2, 'SHDS-treated 24h', f2);
}
dlsLegend(597, 665, 675, [15, 53, 91], [[595,115,67,31],[595,154,67,31]], [BLK, RED, DRED], ['#e8e8e8','#a0a0a0'], ['#cbcbcb','#8a8a8a'], 27, 28);
dlsLegend(1584, 1662, 1672, [37, 81, 123], [[1582,150,78,35],[1582,192,78,37]], [BLK, DRED, RED], ['#f4f4f4','#c8c8c8'], ['#dedede','#bdbdbd'], 29, 30);
dlsLegend(529, 597, 606, [779, 817, 855], [[527,877,70,34],[527,918,70,35]], [BLK, RED, DRED], ['#f3f3f3','#bbbbbb'], ['#dcdcdc','#aaaaaa'], 27, 28);
dlsLegend(1172, 1242, 1252, [802, 841, 881], [[1172,904,69,33],[1172,944,69,34]], [BLK, RED, DRED], ['#f3f3f3','#bbbbbb'], ['#dcdcdc','#aaaaaa'], 27, 28);

function eprLegend(lx1, lx2, tx, rows) {
  const names = ['Ctrl', 'untreated', 'SHDS-treated'], cols = [BLK, GRN, RED];
  for (let i = 0; i < 3; i++) { L(lx1, rows[i], lx2, rows[i], cols[i], 2.2); T(tx, rows[i], names[i], 'bold 23px "Liberation Sans", sans-serif'); }
}
eprLegend(662, 718, 727, [1533, 1564, 1596]);
eprLegend(1681, 1738, 1748, [1524, 1556, 1588]);

// y-axis titles
T(20, 357, 'Intensiti %', '28px ' + DJ, {rot: Math.PI / 2, align:'center'});
T(1056, 343, 'Intensity %', '28px ' + DJ, {rot: Math.PI / 2, align:'center'});
T(20, 1077, 'Intensity %', '28px ' + DJ, {rot: Math.PI / 2, align:'center'});
T(1056, 1070, 'Intensity %', '28px ' + DJ, {rot: Math.PI / 2, align:'center'});
// x-axis titles d_H (nm)
function dH(cx, cy, gap) {
  const x0 = cx - 53;
  T(x0, cy, 'd', '28px ' + DJ);
  T(x0 + 18, cy + 10, 'H', '16px ' + DJ);
  T(x0 + 31, cy, (gap ? ' ' : '') + '(nm)', '28px ' + DJ);
}
dH(465, 713, true);
dH(1496, 692, true);
dH(465, 1437, true);
dH(1490, 1427, false);
T(465, 2176, 'Field (G)', 'bold 25px "Liberation Sans", sans-serif', {align:'center'});
T(1488, 2176, 'Field (G)', 'bold 25px "Liberation Sans", sans-serif', {align:'center'});
// panel letters
const LF = '64px "Liberation Sans", sans-serif';
T(5, 95, 'A', LF, {fill:'#000'});
T(1039, 91, 'B', LF, {fill:'#000'});
T(9, 787, 'C', LF, {fill:'#000'});
T(1040, 787, 'D', LF, {fill:'#000'});
T(41, 1651, 'E', LF, {fill:'#000'});
T(1080, 1651, 'F', LF, {fill:'#000'});

const chart = echarts.init(document.getElementById('c'), null, {renderer:'canvas', width:1960, height:2194});
chart.setOption({
  animation:false,
  backgroundColor:'#ffffff',
  grid: grids.map(g => Object.assign({outerBoundsMode:'none', containLabel:false, show:false}, g)),
  xAxis: xAxes,
  yAxis: yAxes,
  series,
  graphic: G
});
</script></body></html>
